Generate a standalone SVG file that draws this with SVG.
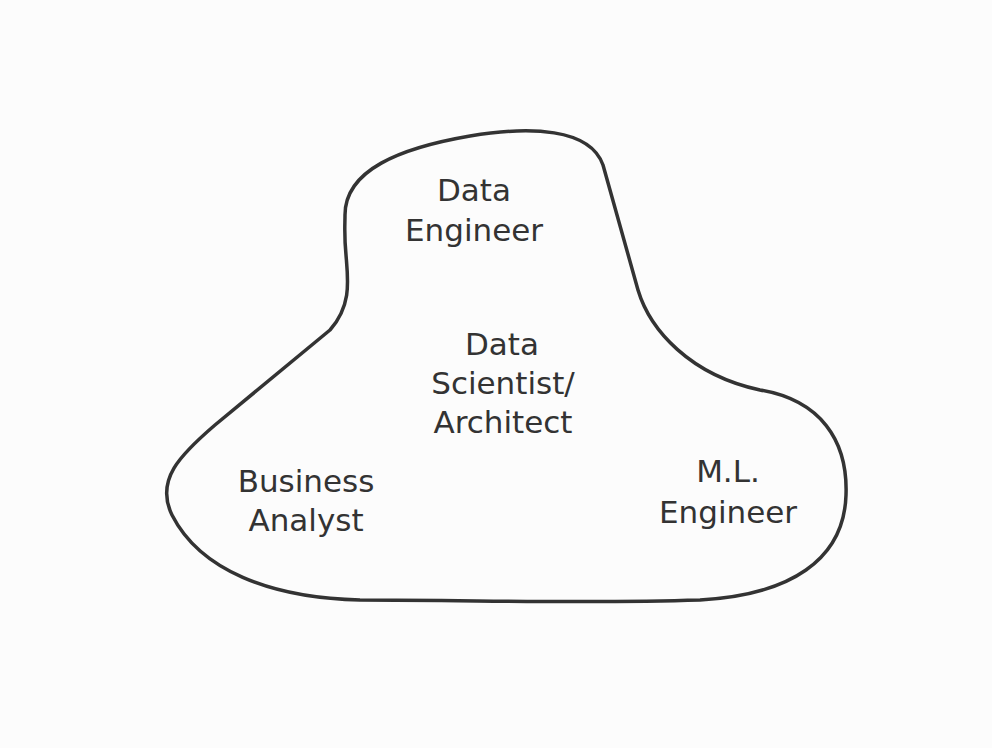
<svg xmlns="http://www.w3.org/2000/svg" width="992" height="748" viewBox="0 0 992 748">
<style>
.t{font-family:"DejaVu Sans","Liberation Sans",sans-serif;font-size:31px;fill:#333;text-anchor:middle}
.blob{fill:none;stroke:#333;stroke-width:3.5;stroke-linejoin:round}
</style>
<rect width="992" height="748" fill="#fcfcfc"/>
<g id="blob">
<path class="blob" d="M 345 215 C 345 170, 400 148, 470 136 C 530 126, 590 128, 603 165 L 638 290 C 650 330, 690 375, 760 390 C 820 400, 848 440, 846 495 C 844 560, 790 595, 700 600 C 580 604, 480 600, 360 600 C 270 598, 200 570, 172 515 C 155 480, 180 455, 215 425 L 330 330 C 352 305, 348 280, 346 255 C 344 235, 345 225, 345 215 Z"/>
</g>
<g id="data-engineer"><text class="t" x="474" y="201">Data</text><text class="t" x="474" y="241">Engineer</text></g>
<g id="data-scientist"><text class="t" x="502" y="355">Data</text><text class="t" x="503" y="394">Scientist/</text><text class="t" x="503" y="433">Architect</text></g>
<g id="business-analyst"><text class="t" x="306" y="492">Business</text><text class="t" x="306" y="531">Analyst</text></g>
<g id="ml-engineer"><text class="t" x="728" y="482">M.L.</text><text class="t" x="728" y="523">Engineer</text></g>
<g id="connectors"></g>
</svg>
